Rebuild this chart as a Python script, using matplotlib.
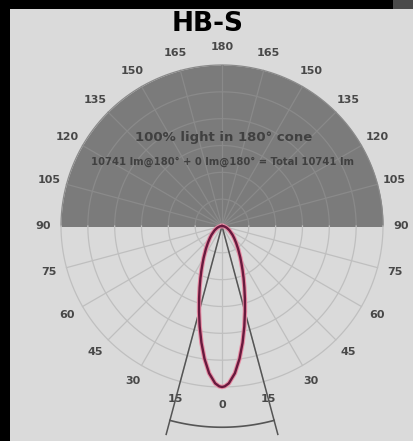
import numpy as np
import matplotlib.pyplot as plt
from matplotlib.patches import Rectangle

# ---- data ----
title = "HB-S"
headline = "100% light in 180° cone"
subline = "10741 lm@180° + 0 lm@180° = Total 10741 lm"
tick_angles = list(range(0, 360, 15))
tick_labels = [str(a if a <= 180 else 360 - a) for a in tick_angles]
lobe_angles = [0, 1, 2.5, 5, 7.5, 10, 12.5, 15, 17.5, 20, 22.5, 25, 27.5, 30,
               35, 40, 45, 50, 60, 70, 80, 90]
lobe_values = [1.0, 0.996, 0.978, 0.918, 0.832, 0.736, 0.640, 0.551, 0.473, 0.406,
               0.350, 0.302, 0.261, 0.228, 0.175, 0.136, 0.107, 0.085, 0.053,
               0.031, 0.015, 0.0]
beam_half_angle = 15
ring_values = [1/6, 2/6, 3/6, 4/6, 5/6, 1.0]

W, H = 414, 441
fig = plt.figure(figsize=(W/100, H/100), dpi=100, facecolor='black')
fig.patches.append(Rectangle((10/W, 0), (W-10)/W, (H-9)/H, transform=fig.transFigure,
                             facecolor='#dadada', edgecolor='none', zorder=-10))
fig.patches.append(Rectangle((393/W, (H-9)/H), 21/W, 9/H, transform=fig.transFigure,
                             facecolor='#4a4a4a', edgecolor='none', zorder=-10))

R = 161.0
rmax = 1.35
cx, cy = 222.0, 226.0
side = 2 * R * rmax
ax = fig.add_axes([(cx - side/2)/W, (H - cy - side/2)/H, side/W, side/H], projection='polar')
ax.set_zorder(1)
ax.set_theta_zero_location('S')
ax.set_theta_direction(1)
ax.set_ylim(0, rmax)
ax.grid(False)
ax.set_xticks([])
ax.set_yticks([])
ax.spines['polar'].set_visible(False)
ax.set_facecolor('none')

# upper half filled
th_up = np.radians(np.linspace(90, 270, 200))
ax.fill_between(th_up, 0, 1.0, color='#7b7b7b', zorder=1, linewidth=0)

upper_grid = '#8a8a8a'
lower_grid = '#bfbfbf'
th_low = np.radians(np.linspace(-90, 90, 200))
for r in ring_values:
    ax.plot(th_up, np.full_like(th_up, r), color=upper_grid, lw=0.9, zorder=2)
    ax.plot(th_low, np.full_like(th_low, r), color=lower_grid, lw=0.9, zorder=2)
for a in tick_angles:
    if a in (90, 270):
        continue
    col = upper_grid if 90 < a < 270 else lower_grid
    ax.plot([np.radians(a)] * 2, [0, 1.0], color=col, lw=0.9, zorder=2)

# labels
for a, lab in zip(tick_angles, tick_labels):
    ax.text(np.radians(a), 1.11, lab, ha='center', va='center', fontsize=8,
            fontweight='bold', color='#484848')

# beam lines and arc
for s in (-1, 1):
    ax.plot([np.radians(s * beam_half_angle)] * 2, [0, 1.34], color='#555555', lw=1.1,
            zorder=3, clip_on=False)
arc = np.radians(np.linspace(-beam_half_angle, beam_half_angle, 60))
ax.plot(arc, np.full_like(arc, 1.25), color='#555555', lw=1.2, zorder=3, clip_on=False)

# lobe
la = np.array(lobe_angles, dtype=float)
lv = np.array(lobe_values)
th = np.radians(np.concatenate([-la[::-1], la[1:]]))
rv = np.concatenate([lv[::-1], lv[1:]])
ax.plot(th, rv, color='#e88ca4', lw=3.2, zorder=4, solid_joinstyle='round')
ax.plot(th, rv, color='#681a3e', lw=1.7, zorder=5, solid_joinstyle='round')

fig.text(224/W, 1 - 137/H, headline, ha='center', va='center', fontsize=9.5,
         fontweight='bold', color='#404040', zorder=5)
fig.text(223/W, 1 - 162/H, subline, ha='center', va='center', fontsize=7.2,
         fontweight='bold', color='#404040', zorder=5)
fig.text(208/W, 1 - 24/H, title, ha='center', va='center', fontsize=19,
         fontweight='bold', color='black', zorder=5)

fig.savefig('out.png', dpi=100, facecolor=fig.get_facecolor())
